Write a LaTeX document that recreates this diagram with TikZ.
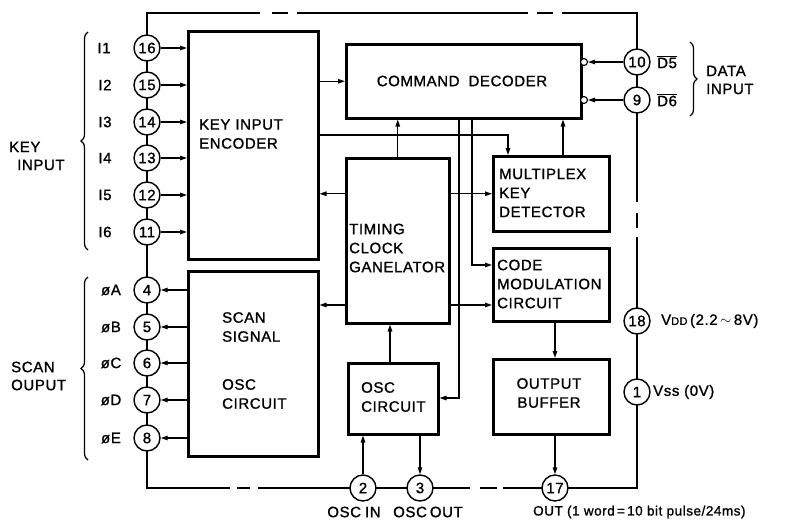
\documentclass[tikz,border=0pt]{standalone}
\usepackage{fontspec}
\setmainfont{Liberation Sans}[LetterSpace=4, FakeBold=1.2]
\usetikzlibrary{arrows.meta,decorations.pathreplacing}
\begin{document}
\begin{tikzpicture}[x=1pt,y=-1pt,
 blk/.style={draw, line width=2.5pt, anchor=north west, inner sep=0pt},
 txt/.style={font=\fontsize{15}{19}\selectfont, align=left, inner sep=0pt},
 pin/.style={circle, draw, line width=1.4pt, fill=white, minimum size=26pt, inner sep=0pt, font=\fontsize{15}{15}\selectfont},
 lbl/.style={font=\fontsize{15}{18}\selectfont, inner sep=0pt, align=left},
 arr/.style={line width=1.2pt, -{Triangle[length=7pt,width=4.5pt]}},
 frm/.style={line width=2.5pt},
 brc/.style={decorate, decoration={brace, amplitude=7pt}, line width=1.2pt},
 bub/.style={circle, draw, line width=1.1pt, minimum size=7pt, inner sep=0pt, fill=white}]
\useasboundingbox (0,0) rectangle (785,528);

% outer frame (broken)
\coordinate (tl) at (147,13);
\coordinate (tr) at (637,13);
\coordinate (bl) at (147,488);
\coordinate (br) at (637,488);
\draw[frm] (260,13) -- (tl) -- (bl) -- (230,488);
\draw[frm] (272,13) -- (288,13);
\draw[frm] (297,13) -- (528,13);
\draw[frm] (537,13) -- (553,13);
\draw[frm] (562,13) -- (tr) -- (637,202);
\draw[frm] (637,213) -- (637,228);
\draw[frm] (637,237) -- (br) -- (503,488);
\draw[frm] (497,488) -- (480,488);
\draw[frm] (470,488) -- (258,488);
\draw[frm] (250,488) -- (237,488);

% blocks
\node[blk, minimum width=130pt, minimum height=228pt] (enc) at (187,30) {};
\node[blk, minimum width=130pt, minimum height=185pt] (scan) at (187,270) {};
\node[blk, minimum width=235pt, minimum height=74pt] (dec) at (345,43) {};
\node[blk, minimum width=103pt, minimum height=165pt] (tcg) at (345,157) {};
\node[blk, minimum width=116pt, minimum height=75pt] (mkd) at (492,155) {};
\node[blk, minimum width=116pt, minimum height=73pt] (cmc) at (492,247) {};
\node[blk, minimum width=116pt, minimum height=75pt] (ob) at (492,358) {};
\node[blk, minimum width=90pt, minimum height=71pt] (osc) at (347,362) {};

% block texts
\node[txt, anchor=west] (tenc) at (199,134) {KEY\hspace{5pt}INPUT\\ENCODER};
\node[txt, anchor=west] (tscan1) at (222,327) {SCAN\\SIGNAL};
\node[txt, anchor=west] (tscan2) at (222,394) {OSC\\CIRCUIT};
\node[txt] (tdec) at (462,81) {COMMAND\hspace{9pt}DECODER};
\node[txt, anchor=west] (ttcg) at (349,248) {TIMING\\CLOCK\\GANELATOR};
\node[txt, anchor=west] (tmkd) at (499,193) {MULTIPLEX\\KEY\\DETECTOR};
\node[txt, anchor=west] (tcmc) at (497,284) {CODE\\MODULATION\\CIRCUIT};
\node[txt, align=center] (tob) at (549,393) {OUTPUT\\BUFFER};
\node[txt, anchor=west] (tosc) at (361,397) {OSC\\CIRCUIT};

% pins
\node[pin] (p16) at (147,48) {16};
\node[pin] (p15) at (147,85) {15};
\node[pin] (p14) at (147,122) {14};
\node[pin] (p13) at (147,158) {13};
\node[pin] (p12) at (147,195) {12};
\node[pin] (p11) at (147,232) {11};
\node[pin] (p4) at (147,290) {4};
\node[pin] (p5) at (147,327) {5};
\node[pin] (p6) at (147,363) {6};
\node[pin] (p7) at (147,400) {7};
\node[pin] (p8) at (147,438) {8};
\node[pin] (p10) at (637,62) {10};
\node[pin] (p9) at (637,100) {9};
\node[pin] (p18) at (637,321) {18};
\node[pin] (p1) at (637,392) {1};
\node[pin] (p2) at (363,488) {2};
\node[pin] (p3) at (420,488) {3};
\node[pin] (p17) at (555,488) {17};

% inverting bubbles
\node[bub] (b10) at (584,62) {};
\node[bub] (b9) at (584,100) {};

% pin labels
\node[lbl] (l16) at (104,48) {I1};
\node[lbl] (l15) at (105,85) {I2};
\node[lbl] (l14) at (105,122) {I3};
\node[lbl] (l13) at (105,158) {I4};
\node[lbl] (l12) at (105,195) {I5};
\node[lbl] (l11) at (105,232) {I6};
\node[lbl] (l4) at (111,290) {øA};
\node[lbl] (l5) at (111,327) {øB};
\node[lbl] (l6) at (111,363) {øC};
\node[lbl] (l7) at (111,400) {øD};
\node[lbl] (l8) at (111,438) {øE};
\node[lbl, anchor=west] (l10) at (657,62) {$\overline{\hbox{D5}}$};
\node[lbl, anchor=west] (l9) at (657,100) {$\overline{\hbox{D6}}$};
\node[lbl, anchor=west] (l18) at (661,321) {V{\fontsize{11}{11}\selectfont DD}\,(2.2\,$\sim$\,8V)};
\node[lbl, anchor=west] (l1) at (653,392) {Vss (0V)};
\node[lbl] (l2) at (354,512) {OSC\hspace{4pt}IN};
\node[lbl] (l3) at (428,512) {OSC\hspace{3pt}OUT};
\node[lbl, anchor=west, font=\fontsize{13.5}{15}\selectfont] (l17) at (533,512) {OUT (1 word\,=\,10 bit pulse/24ms)};

% braces and group labels
\coordinate (kb1) at (88,250); \coordinate (kb2) at (88,32);
\coordinate (sb1) at (88,460); \coordinate (sb2) at (88,277);
\coordinate (db1) at (690,42); \coordinate (db2) at (690,116);
\draw[brc] (kb1) -- (kb2);
\draw[brc] (sb1) -- (sb2);
\draw[brc] (db1) -- (db2);
\node[lbl, anchor=west] (gkey) at (9,156) {KEY\\\hspace*{8pt}INPUT};
\node[lbl, anchor=west] (gscan) at (11,376) {SCAN\\OUPUT};
\node[lbl, anchor=west] (gdata) at (706,80) {DATA\\INPUT};

% pin connectors
\foreach \p in {16,15,14,13,12,11}
  \draw[arr] (p\p.east) -- (p\p -| enc.west);
\foreach \p in {4,5,6,7,8}
  \draw[arr] (p\p -| scan.west) -- (p\p.east);
\draw[arr] (p10.west) -- (b10.east);
\draw[arr] (p9.west) -- (b9.east);

% internal connectors
\coordinate (kd) at (508,135);
\coordinate (r2) at (0,305);
\coordinate (v1) at (459,398);
\coordinate (v2) at (472,265);
\coordinate (v3) at (563,0);
\coordinate (v4) at (555,0);
\coordinate (v5) at (390,0);
\draw[arr] (enc.east |- dec.west) -- (dec.west);
\draw[arr] (enc.east |- kd) -- (kd) -- (kd |- mkd.north);
\draw[arr] (tcg.north) -- (tcg.north |- dec.south);
\draw[arr] (tcg.west |- mkd.west) -- (enc.east |- mkd.west);
\draw[arr] (tcg.east |- mkd.west) -- (mkd.west);
\draw[arr] (tcg.west |- r2) -- (scan.east |- r2);
\draw[arr] (tcg.east |- r2) -- (cmc.west |- r2);
\draw[arr] (dec.south -| v2) -- (v2) -- (cmc.west |- v2);
\draw[arr] (dec.south -| v1) -- (v1) -- (osc.east |- v1);
\draw[arr] (mkd.north -| v3) -- (dec.south -| v3);
\draw[arr] (cmc.south -| v4) -- (ob.north -| v4);
\draw[arr] (ob.south -| p17) -- (p17.north);
\draw[arr] (osc.north -| v5) -- (tcg.south -| v5);
\draw[arr] (p2.north) -- (osc.south -| p2);
\draw[arr] (osc.south -| p3) -- (p3.north);
\end{tikzpicture}
\end{document}
